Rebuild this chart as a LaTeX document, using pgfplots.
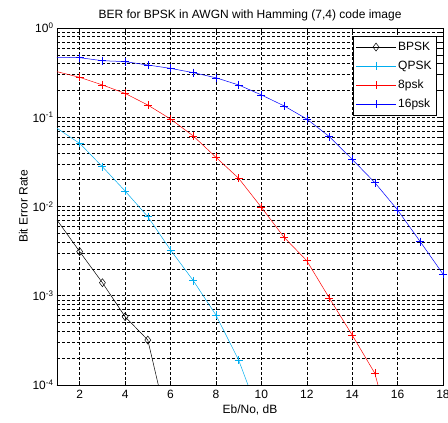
\documentclass[border=0pt]{standalone}
\usepackage{pgfplots}
\pgfplotsset{compat=1.18}
\usepackage{fontspec}
\setmainfont{Liberation Sans}

\begin{document}
\begin{tikzpicture}
\begin{axis}[
    scale only axis, width=386pt, height=357pt,
    ymode=log,
    xmin=1, xmax=18, ymin=1e-4, ymax=1,
    xtick={2,4,...,18},
    ytick={1e-4,1e-3,1e-2,1e-1,1},
    yticklabels={10\textsuperscript{-4},10\textsuperscript{-3},10\textsuperscript{-2},10\textsuperscript{-1},10\textsuperscript{0}},
    /pgf/number format/assume math mode=true,
    xmajorgrids, ymajorgrids, yminorgrids,
    major grid style={black, dash pattern=on 3pt off 2pt, line width=0.5pt},
    minor grid style={black, dash pattern=on 3pt off 2pt, line width=0.5pt},
    tick style={black, line width=0.5pt},
    axis line style={line width=0.6pt},
    tick label style={font=\fontsize{12}{14}\selectfont},
    xticklabel style={yshift=-2pt},
    label style={font=\fontsize{12}{14}\selectfont},
    title style={font=\fontsize{12}{14}\selectfont, yshift=-3pt},
    title={BER for BPSK in AWGN with Hamming (7,4) code image},
    xlabel={Eb/No, dB},
    ylabel={Bit Error Rate},
    xlabel style={yshift=1pt},
    ylabel style={yshift=-2pt},
    legend style={at={(rel axis cs:0.984,0.978)}, anchor=north east,
        draw=black, line width=0.6pt, fill=white,
        font=\fontsize{12}{14}\selectfont, row sep=5pt,
        inner xsep=3pt, inner ysep=4pt},
    legend cell align=left,
    legend image code/.code={
        \draw[mark=none] (0cm,0cm) -- (1.4cm,0cm);
        \draw[mark indices={1}] plot coordinates {(0.7cm,0cm)};
    },
]
\addplot[black, line width=0.5pt, mark=diamond, mark size=4pt, mark indices={2,3,4,5}]
  coordinates {(1,7.06e-3)(2,3.12e-3)(3,1.40e-3)(4,5.82e-4)(5,3.19e-4)(6,2.6e-5)};
\addplot[cyan, line width=0.5pt, mark=+, mark size=4pt, mark indices={2,...,9}]
  coordinates {(1,0.0752)(2,0.051)(3,0.0279)(4,0.0149)(5,0.00769)(6,0.00326)(7,0.00148)(8,6.08e-4)(9,1.9e-4)(10,4e-5)};
\addplot[red, line width=0.5pt, mark=+, mark size=4pt, mark indices={2,...,15}]
  coordinates {(1,0.324)(2,0.28)(3,0.23)(4,0.185)(5,0.137)(6,0.0956)(7,0.0617)(8,0.0356)(9,0.0207)(10,0.0098)(11,0.00452)(12,0.00247)(13,9.36e-4)(14,3.63e-4)(15,1.35e-4)(16,1.5e-5)};
\addplot[blue, line width=0.5pt, mark=+, mark size=4pt, mark indices={2,...,18}]
  coordinates {(1,0.47)(2,0.465)(3,0.43)(4,0.42)(5,0.385)(6,0.353)(7,0.316)(8,0.277)(9,0.23)(10,0.178)(11,0.134)(12,0.0956)(13,0.0605)(14,0.0338)(15,0.0185)(16,0.00914)(17,0.00403)(18,0.00175)};
\legend{BPSK,QPSK,8psk,16psk}
\end{axis}
\pgfresetboundingbox
\path ([xshift=-57pt,yshift=-38pt]current axis.south west) rectangle ([xshift=5pt,yshift=28pt]current axis.north east);
\end{tikzpicture}
\end{document}
